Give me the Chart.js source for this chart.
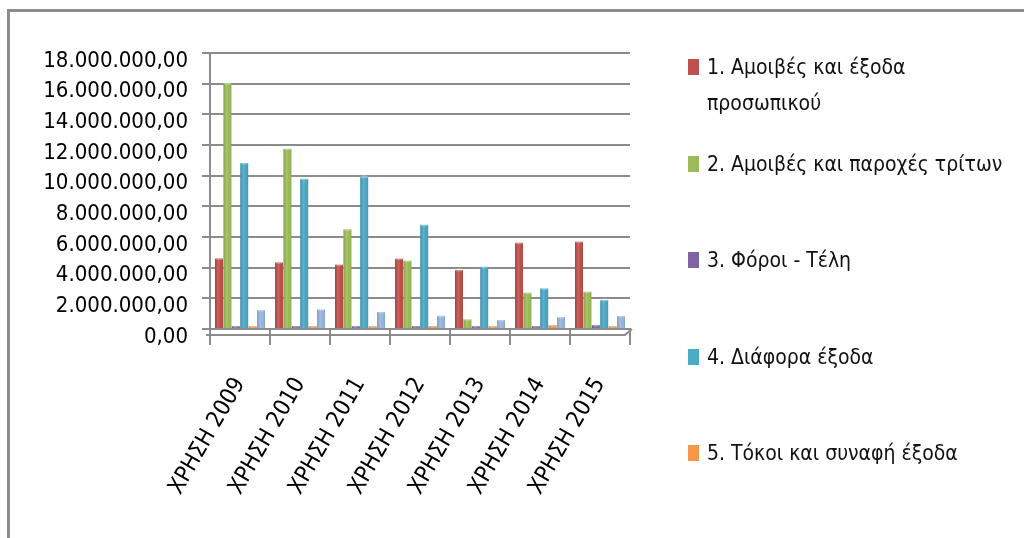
<!DOCTYPE html>
<html lang="el">
<head>
<meta charset="utf-8">
<title>Έξοδα ανά χρήση 2009-2015</title>
<script src="https://cdn.jsdelivr.net/npm/chart.js@4.4.0/dist/chart.umd.min.js"></script>
<style>
  html, body { margin: 0; padding: 0; background: #fff; }
  #wrap { position: relative; width: 1024px; height: 538px; overflow: hidden; background: #fff; }
  #frame { position: absolute; left: 7px; top: 9px; width: 1100px; height: 600px;
           border-top: 3px solid #8c8c8c; border-left: 3px solid #8c8c8c; }
  #chart { position: absolute; left: 0; top: 0; }
  .legend-item { position: absolute; left: 688px; display: flex; align-items: flex-start;
                 font-family: 'DejaVu Sans Condensed', 'DejaVu Sans', sans-serif;
                 font-size: 21px; line-height: 36px; color: #111; white-space: pre; }
  .legend-box { flex: none; width: 11px; height: 16px; margin-top: 10px; margin-right: 8px; }
</style>
</head>
<body>
<div id="wrap">
  <div id="frame"></div>
  <canvas id="chart" width="1024" height="538"></canvas>
  <div id="legend"></div>
</div>
<script>
// Data
const years = ['ΧΡΗΣΗ 2009', 'ΧΡΗΣΗ 2010', 'ΧΡΗΣΗ 2011', 'ΧΡΗΣΗ 2012', 'ΧΡΗΣΗ 2013', 'ΧΡΗΣΗ 2014', 'ΧΡΗΣΗ 2015'];

const seriesNames = [
    '1. Αμοιβές και έξοδα\nπροσωπικού',
    '2. Αμοιβές και παροχές τρίτων',
    '3. Φόροι - Τέλη',
    '4. Διάφορα έξοδα',
    '5. Τόκοι και συναφή έξοδα',
    '6.'
];

const personnel = [4610000, 4350000, 4200000, 4590000, 3850000, 5630000, 5700000];
const thirdParty = [16050000, 11760000, 6500000, 4460000, 630000, 2370000, 2430000];
const taxes = [30000, 40000, 130000, 150000, 70000, 100000, 260000];
const otherExpenses = [10830000, 9800000, 9930000, 6800000, 4060000, 2650000, 1890000];
const interest = [40000, 60000, 60000, 50000, 30000, 260000, 150000];
const sixth = [1240000, 1280000, 1110000, 870000, 590000, 780000, 850000];

const yTickLabels = ['0,00', '2.000.000,00', '4.000.000,00', '6.000.000,00', '8.000.000,00',
    '10.000.000,00', '12.000.000,00', '14.000.000,00', '16.000.000,00', '18.000.000,00'];

const seriesValues = [personnel, thirdParty, taxes, otherExpenses, interest, sixth];
const seriesColors = ['#be4b48', '#98b954', '#7d5fa0', '#46a5c2', '#f39143', '#95b3de'];
const legendColors = ['#c0504d', '#9bbb59', '#8064a2', '#4bacc6', '#f79646'];

const FONT = "'DejaVu Sans Condensed', 'DejaVu Sans', sans-serif";

// Cylinder-like shading on top of each bar
const cylinderPlugin = {
    id: 'cylinder',
    afterDatasetsDraw(chart) {
        const c = chart.ctx;
        chart.data.datasets.forEach((ds, di) => {
            chart.getDatasetMeta(di).data.forEach(bar => {
                const p = bar.getProps(['x', 'y', 'base', 'width'], true);
                const l = p.x - p.width / 2;
                const g = c.createLinearGradient(l, 0, l + p.width, 0);
                g.addColorStop(0, 'rgba(0,0,0,0.10)');
                g.addColorStop(0.4, 'rgba(255,255,255,0.15)');
                g.addColorStop(0.7, 'rgba(255,255,255,0)');
                g.addColorStop(1, 'rgba(0,0,0,0.12)');
                c.save();
                c.fillStyle = g;
                c.fillRect(l, p.y, p.width, p.base - p.y);
                c.beginPath();
                c.ellipse(p.x, p.y, p.width / 2, 1.6, 0, 0, Math.PI * 2);
                c.fillStyle = 'rgba(255,255,255,0.3)';
                c.fill();
                c.restore();
            });
        });
    }
};

// Floor edge under the bars
const floorPlugin = {
    id: 'floor',
    beforeDatasetsDraw(chart) {
        const a = chart.chartArea;
        const c = chart.ctx;
        c.save();
        c.strokeStyle = '#8c8c8c';
        c.lineWidth = 2;
        c.beginPath();
        c.moveTo(a.left - 4, a.bottom + 6);
        c.lineTo(a.right - 5, a.bottom + 6);
        c.lineTo(a.right + 2, a.bottom);
        c.stroke();
        c.restore();
    }
};

function renderLegend() {
    const legend = document.getElementById('legend');
    legend.innerHTML = legendColors.map((color, i) => `
        <div class="legend-item" style="top:${49 + i * 96.5}px">
            <span class="legend-box" style="background:${color}"></span>
            <span>${seriesNames[i]}</span>
        </div>
    `).join('');
}

function initializeChart() {
    const ctx = document.getElementById('chart').getContext('2d');
    new Chart(ctx, {
        type: 'bar',
        data: {
            labels: years,
            datasets: seriesValues.map((vals, i) => ({
                label: seriesNames[i],
                data: vals,
                backgroundColor: seriesColors[i],
                categoryPercentage: 0.84,
                barPercentage: 0.95,
                minBarLength: 3
            }))
        },
        options: {
            responsive: false,
            animation: false,
            layout: { padding: { top: 53, right: 394, bottom: 0, left: 0 } },
            plugins: {
                legend: { display: false },
                tooltip: { enabled: false }
            },
            scales: {
                x: {
                    grid: { drawOnChartArea: false, drawTicks: true, tickLength: 16, color: '#8c8c8c', lineWidth: 2 },
                    border: { display: true, color: '#8c8c8c', width: 2 },
                    ticks: { minRotation: 60, maxRotation: 60, color: '#000', padding: 28,
                             font: { family: FONT, size: 23 } },
                    afterFit(scale) { scale.height = 209; }
                },
                y: {
                    min: 0,
                    max: 18000000,
                    grid: { color: '#8c8c8c', lineWidth: 2, tickLength: 8 },
                    border: { color: '#8c8c8c', width: 2 },
                    ticks: {
                        stepSize: 2000000,
                        autoSkip: false,
                        callback: (v, i) => yTickLabels[i],
                        labelOffset: 8,
                        padding: 14,
                        color: '#000',
                        font: { family: FONT, size: 22 }
                    },
                    afterFit(scale) { scale.width = 210; }
                }
            }
        },
        plugins: [floorPlugin, cylinderPlugin]
    });
}

renderLegend();
initializeChart();
</script>
</body>
</html>
